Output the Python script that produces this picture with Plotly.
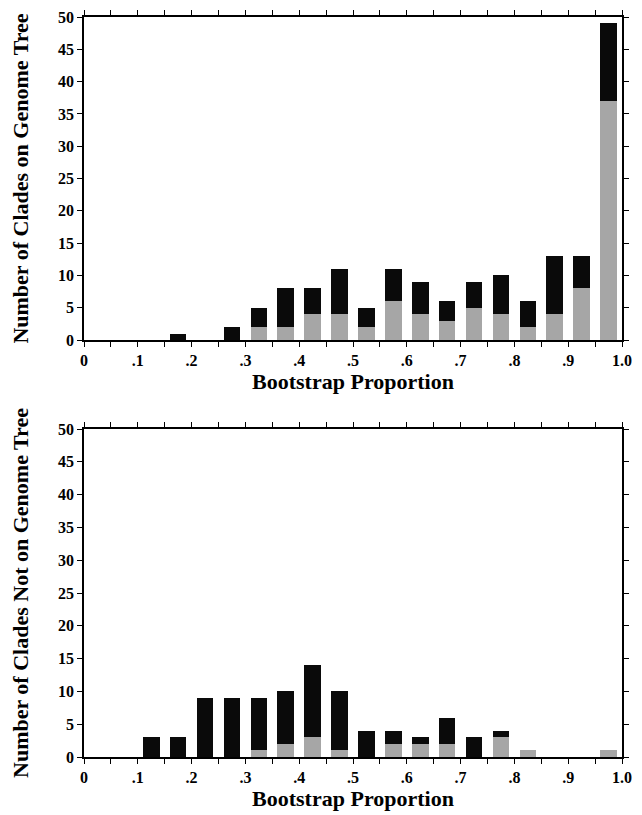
import plotly.graph_objects as go

# Bin centres (bootstrap proportion bins of width 0.05)
bins = [0.025, 0.075, 0.125, 0.175, 0.225, 0.275, 0.325, 0.375, 0.425, 0.475,
        0.525, 0.575, 0.625, 0.675, 0.725, 0.775, 0.825, 0.875, 0.925, 0.975]

# Top panel: clades on genome tree (gray = lower part, black = upper part)
top_gray = [0, 0, 0, 0, 0, 0, 2, 2, 4, 4, 2, 6, 4, 3, 5, 4, 2, 4, 8, 37]
top_black = [0, 0, 0, 1, 0, 2, 3, 6, 4, 7, 3, 5, 5, 3, 4, 6, 4, 9, 5, 12]

# Bottom panel: clades not on genome tree
bot_gray = [0, 0, 0, 0, 0, 0, 1, 2, 3, 1, 0, 2, 2, 2, 0, 3, 1, 0, 0, 1]
bot_black = [0, 0, 3, 3, 9, 9, 8, 8, 11, 9, 4, 2, 1, 4, 3, 1, 0, 0, 0, 0]

x_tickvals = [i * 0.05 for i in range(21)]
x_ticktext = ["0", "", ".1", "", ".2", "", ".3", "", ".4", "", ".5", "", ".6", "",
              ".7", "", ".8", "", ".9", "", "1.0"]
y_tickvals = list(range(0, 51, 5))

GRAY = "#a6a6a6"
BLACK = "#0a0a0a"
BAR_W = 0.031
FONT = "Liberation Serif"

fig = go.Figure()
fig.add_trace(go.Bar(x=bins, y=top_gray, width=BAR_W, marker=dict(color=GRAY, line=dict(width=0)),
                     xaxis="x", yaxis="y", showlegend=False))
fig.add_trace(go.Bar(x=bins, y=top_black, width=BAR_W, marker=dict(color=BLACK, line=dict(width=0)),
                     xaxis="x", yaxis="y", showlegend=False))
fig.add_trace(go.Bar(x=bins, y=bot_gray, width=BAR_W, marker=dict(color=GRAY, line=dict(width=0)),
                     xaxis="x2", yaxis="y2", showlegend=False))
fig.add_trace(go.Bar(x=bins, y=bot_black, width=BAR_W, marker=dict(color=BLACK, line=dict(width=0)),
                     xaxis="x2", yaxis="y2", showlegend=False))

# page has an 8px body margin, so the figure is drawn offset by 8px
W, H = 634, 807
xdom = [76 / W, 614 / W]
top_dom = [1 - 332 / H, 1 - 9 / H]
bot_dom = [1 - 749 / H, 1 - 421 / H]

tickfont = dict(family=FONT, size=16, color="black", weight="bold")
titlefont = dict(family=FONT, size=22, color="black", weight="bold")

def xaxis(dom, anchor):
    return dict(domain=dom, anchor=anchor, range=[0, 1.0], tickmode="array",
                tickvals=x_tickvals, ticktext=x_ticktext, ticks="outside", ticklen=5,
                tickwidth=1.2, tickcolor="black", showline=True, linecolor="black",
                linewidth=1.5, mirror="allticks", showgrid=False, zeroline=False,
                automargin=False, tickfont=tickfont, ticklabeloverflow="allow",
                title=dict(text="Bootstrap Proportion", font=titlefont, standoff=3))

def yaxis(dom, anchor, title):
    return dict(domain=dom, anchor=anchor, range=[0, 50], tickmode="array",
                tickvals=y_tickvals, ticks="outside", ticklen=5, tickwidth=1.2,
                tickcolor="black", showline=True, linecolor="black", linewidth=1.5,
                mirror="allticks", showgrid=False, zeroline=False, tickfont=tickfont,
                automargin=False, ticklabeloverflow="allow",
                title=dict(text=title, font=titlefont, standoff=25))

fig.update_layout(
    width=W, height=H, barmode="stack", bargap=0,
    margin=dict(l=0, r=0, t=0, b=0),
    plot_bgcolor="white", paper_bgcolor="white",
    font=dict(family=FONT, color="black"),
    xaxis=xaxis(xdom, "y"),
    yaxis=yaxis(top_dom, "x", "Number of Clades on Genome Tree"),
    xaxis2=xaxis(xdom, "y2"),
    yaxis2=yaxis(bot_dom, "x2", "Number of Clades Not on Genome Tree"),
)

fig.write_html("out.html")
